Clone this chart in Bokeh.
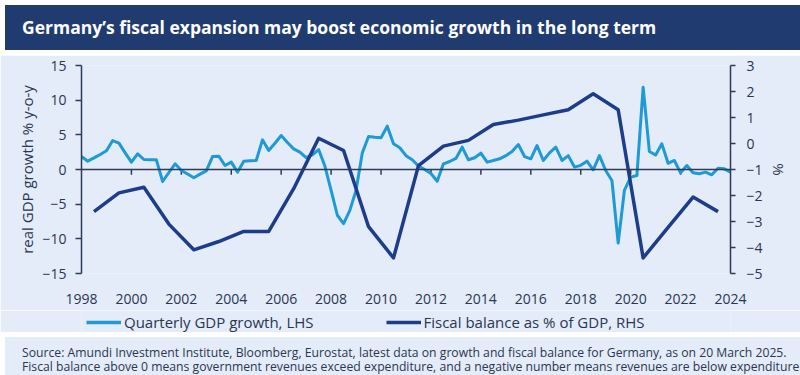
from bokeh.plotting import figure
from bokeh.models import Range1d, LinearAxis, FixedTicker, Legend, LegendItem, Span, Div
from bokeh.layouts import column
from bokeh.embed import file_html
from bokeh.resources import INLINE
import numpy as np

# ---- data ----
fiscal_years = list(range(1998, 2024))
fiscal_balance = [-2.62, -1.9, -1.68, -3.1, -4.09, -3.77, -3.38, -3.38, -1.74, 0.2,
                  -0.27, -3.2, -4.4, -0.85, -0.1, 0.12, 0.73, 0.9, 1.1, 1.3,
                  1.91, 1.3, -4.4, -3.23, -2.06, -2.62]

gdp_growth = [1.87, 1.2, 1.67, 2.17, 2.7, 4.18, 3.8, 2.4, 1.06, 2.26,
              1.44, 1.42, 1.4, -1.73, -0.43, 0.82, -0.14, -0.66, -1.2, -0.67,
              -0.2, 1.87, 1.92, 0.58, 1.06, -0.38, 1.2, 1.25, 1.3, 4.28,
              2.74, 3.78, 4.9, 3.9, 2.98, 2.5, 1.7, 2.1, 2.88, 0.5,
              -3.0, -6.6, -7.8, -5.9, -3.0, 2.4, 4.76, 4.65, 4.57, 6.25,
              3.7, 3.13, 2.0, 1.4, 0.5, 0.0, -0.57, -1.69, 0.82, 1.15,
              1.6, 3.22, 1.4, 1.7, 2.35, 1.06, 1.3, 1.54, 2.0, 2.6,
              3.6, 1.87, 1.54, 3.46, 1.3, 2.4, 3.22, 1.3, 2.0, 0.35,
              0.6, 1.2, -0.04, 2.0, -0.14, -1.59, -10.6, -3.0, -1.1, -0.87,
              11.87, 2.6, 2.1, 3.7, 0.9, 1.3, -0.48, 0.58, -0.48, -0.62,
              -0.38, -0.77, 0.19, 0.1, -0.38]

x_tick_years = list(range(1998, 2025, 2))
left_ticks = [-15, -10, -5, 0, 5, 10, 15]
right_ticks = [-5, -4, -3, -2, -1, 0, 1, 2, 3]

title_text = "Germany’s fiscal expansion may boost economic growth in the long term"
legend_labels = ["Quarterly GDP growth, LHS", "Fiscal balance as % of GDP, RHS"]
source_1 = ("Source: Amundi Investment Institute, Bloomberg, Eurostat, latest data on growth and "
            "fiscal balance for Germany, as on 20 March 2025.")
source_2 = ("Fiscal balance above 0 means government revenues exceed expenditure, and a negative "
            "number means revenues are below expenditure.")

# ---- styles ----
NAVY = "#1f3b70"
BG = "#e3ecf8"
LIGHT = "#1e9ad6"
DARK = "#1d3d8c"
AX = "#2e3b58"
TXT = "#2b3650"
FONT = "Open Sans"

gdp_x = np.linspace(fiscal_years[0], x_tick_years[-1], len(gdp_growth))
fiscal_x = [y + 0.5 for y in fiscal_years]

W = 800

# ---------------- headline bar ----------------
head = Div(text=('<div style="width:%dpx;height:45px;background:%s;color:#ffffff;'
                 'font-family:\'Open Sans\';font-weight:bold;font-size:17.5px;line-height:45px;'
                 'padding-left:17px;box-sizing:border-box;white-space:nowrap;">%s</div>')
           % (W, NAVY, title_text), width=W, height=45)

# ---------------- main chart ----------------
p = figure(width=W, height=255, x_range=Range1d(1998, 2024), y_range=Range1d(-15, 15),
           output_backend="svg", toolbar_location=None,
           x_axis_location=None, y_axis_location=None,
           min_border_left=81, min_border_right=70, min_border_top=10, min_border_bottom=37,
           background_fill_color=BG, border_fill_color=BG, outline_line_color=None)
p.grid.visible = False
p.extra_y_ranges = {"fb": Range1d(-5, 3)}

def style_axis(ax):
    ax.axis_line_color = AX
    ax.axis_line_width = 1.5
    ax.major_tick_line_color = AX
    ax.major_tick_line_width = 1.5
    ax.minor_tick_line_color = None
    ax.major_label_text_font = FONT
    ax.major_label_text_font_size = "14px"
    ax.major_label_text_color = TXT
    ax.axis_label_text_font = FONT
    ax.axis_label_text_font_size = "15px"
    ax.axis_label_text_font_style = "normal"
    ax.axis_label_text_color = TXT

yl = LinearAxis(ticker=FixedTicker(ticks=left_ticks), axis_label="real GDP growth % y-o-y")
style_axis(yl)
yl.major_tick_out = 6
yl.major_tick_in = 0
yl.major_label_standoff = 9
yl.axis_label_standoff = 2
p.add_layout(yl, "left")

yr = LinearAxis(y_range_name="fb", ticker=FixedTicker(ticks=right_ticks), axis_label="%")
style_axis(yr)
yr.major_tick_out = 5
yr.major_tick_in = 0
yr.major_label_standoff = 11
yr.axis_label_standoff = 3
p.add_layout(yr, "right")

xa = LinearAxis(ticker=FixedTicker(ticks=x_tick_years))
style_axis(xa)
xa.axis_line_color = None
xa.major_tick_line_color = None
xa.major_label_standoff = 14
p.add_layout(xa, "below")

# zero line with small tick marks at the labelled years
p.add_layout(Span(location=0, dimension="width", line_color=AX, line_width=1.5))
inner_ticks = x_tick_years[1:-1]
p.segment(x0=inner_ticks, y0=[0] * len(inner_ticks), x1=inner_ticks,
          y1=[-0.75] * len(inner_ticks), line_color=AX, line_width=1.5)

p.line(gdp_x, gdp_growth, line_color=LIGHT, line_width=3, line_join="round")
p.line(fiscal_x, fiscal_balance, y_range_name="fb", line_color=DARK, line_width=3.5,
       line_join="round")

# ---------------- legend strip ----------------
b = figure(width=W, height=22, x_range=Range1d(0, 1), y_range=Range1d(0, 1),
           output_backend="svg", toolbar_location=None,
           x_axis_location=None, y_axis_location=None,
           min_border=0, min_border_left=81, min_border_right=70,
           min_border_top=0, min_border_bottom=0,
           background_fill_color=BG, border_fill_color=BG, outline_line_color=None)
b.grid.visible = False
# legend swatches (one out-of-range data point each, so nothing is drawn in the strip)
k_gdp = b.line(list(gdp_x[:1]), gdp_growth[:1], line_color=LIGHT, line_width=3.5)
k_fb = b.line(fiscal_x[:1], fiscal_balance[:1], line_color=DARK, line_width=3.5)
b.add_layout(Legend(items=[LegendItem(label=legend_labels[0], renderers=[k_gdp]),
                           LegendItem(label=legend_labels[1], renderers=[k_fb])],
                    orientation="horizontal", location=(5, 0), margin=0, padding=1,
                    spacing=72, glyph_width=35, label_standoff=3,
                    background_fill_alpha=0, border_line_color=None,
                    label_text_font=FONT, label_text_font_size="15px",
                    label_text_color=TXT))

# ---------------- source notes ----------------
src = Div(text=('<div style="width:%dpx;height:40px;background:%s;color:%s;'
                'font-family:\'Open Sans\';font-size:12.2px;line-height:14px;'
                'padding:9px 0 0 17px;box-sizing:border-box;white-space:nowrap;">%s<br>%s</div>')
          % (W, BG, TXT, source_1, source_2), width=W, height=40)

layout = column(head, p, b, src, spacing=0)
open("out.html", "w").write(file_html(layout, INLINE))
